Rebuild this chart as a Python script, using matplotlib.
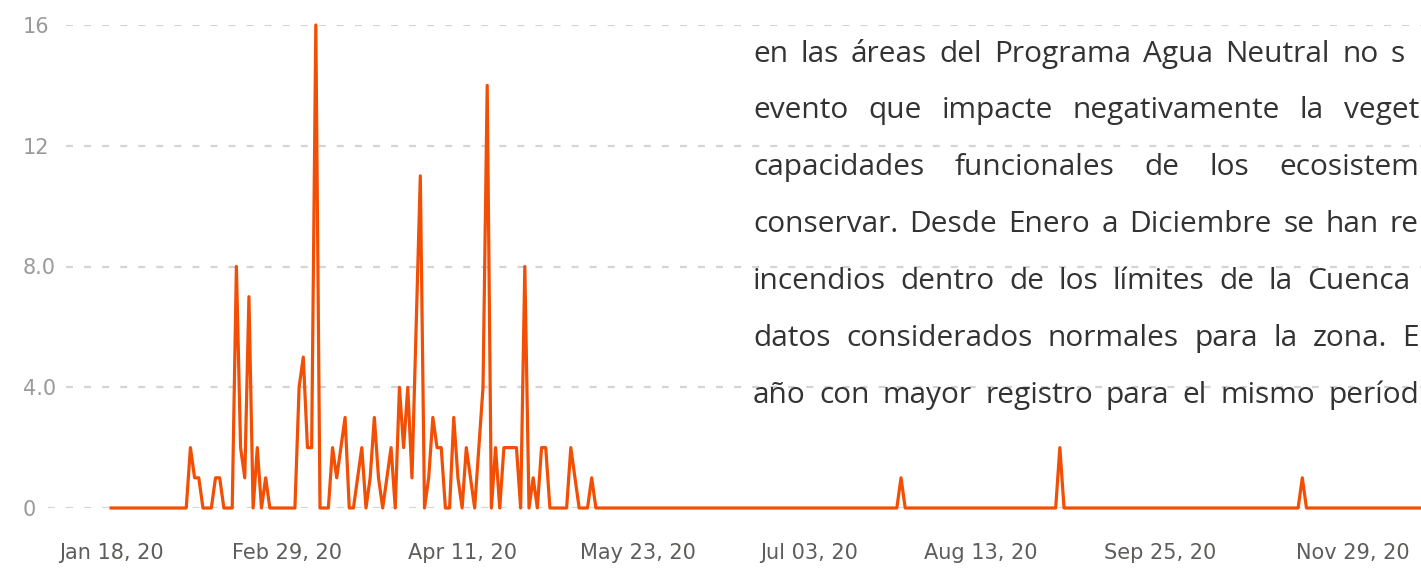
import numpy as np
import matplotlib.pyplot as plt

plt.close("all")
plt.rcParams['lines.scale_dashes'] = False

# daily fire counts, day 0 = Jan 18
early_fires = ([0] * 19
               + [2, 1, 1, 0, 0, 0, 1, 1, 0, 0, 0, 8, 2, 1, 7, 0, 2, 0, 1, 0]
               + [0] * 6
               + [4, 5, 2, 2, 16, 0, 0, 0, 2, 1, 2, 3, 0, 0, 1, 2, 0, 1, 3, 1,
                  0, 1, 2, 0, 4, 2, 4, 1, 6, 11, 0, 1, 3, 2, 2, 0, 0, 3, 1, 0,
                  2, 1, 0, 2, 4, 14, 0, 2, 0, 2, 2, 2, 2, 0, 8, 0, 1, 0, 2, 2,
                  0, 0, 0, 0, 0, 2, 1, 0, 0, 0, 1])
late_days = [189, 227, 285]
late_fires = [1, 2, 1]
n_days = 349

tick_days = [0, 42, 84, 126, 167, 208, 251, 297]
tick_labels = ["Jan 18, 20", "Feb 29, 20", "Apr 11, 20", "May 23, 20",
               "Jul 03, 20", "Aug 13, 20", "Sep 25, 20", "Nov 29, 20"]
y_ticks = [0, 4, 8, 12, 16]
y_labels = ["0", "4.0", "8.0", "12", "16"]

# visible part of the justified text box (it runs past the right edge)
paragraph = [
    "en las áreas del Programa Agua Neutral no s",
    "evento que impacte negativamente la veget",
    "capacidades funcionales de los ecosistem",
    "conservar. Desde Enero a Diciembre se han re",
    "incendios dentro de los límites de la Cuenca",
    "datos considerados normales para la zona. E",
    "año con mayor registro para el mismo períod",
]
line_right = [1405, 1419, 1419, 1419, 1410, 1419, 1419]
baselines = [62, 118, 175, 232, 289, 346, 403]

fires = np.zeros(n_days)
fires[:len(early_fires)] = early_fires
fires[late_days] = late_fires
days = np.arange(n_days)

W, H = 1421, 570
fig = plt.figure(figsize=(W / 100, H / 100), dpi=100)
ax = fig.add_axes([48 / W, 62 / H, 1 - 48 / W, 483 / H])

x0, step = 111, 4.18
ax.set_xlim((48 - x0) / step, (W - x0) / step)
ax.set_ylim(0, 16)

ax.plot(days, fires, color="#F24E04", lw=2.3, clip_on=False, zorder=3)

ax.set_yticks(y_ticks)
ax.set_yticklabels(y_labels)
ax.grid(axis="y", color="#d4d4d4", lw=1.6, linestyle=(0, (5, 8)))
ax.set_axisbelow(True)
for s in ax.spines.values():
    s.set_visible(False)

ax.set_xticks(tick_days)
ax.set_xticklabels(tick_labels)
ax.tick_params(axis="x", length=0, pad=25, labelsize=15, labelcolor="#5f5d5b")
ax.tick_params(axis="y", length=0, pad=18, labelsize=15, labelcolor="#9a9a9a")
for lab in ax.get_yticklabels():
    lab.set_ha("left")
    lab.set_bbox(dict(facecolor="white", edgecolor="none", pad=4))

fig.canvas.draw()
r = fig.canvas.get_renderer()
for line, x_end, base in zip(paragraph, line_right, baselines):
    words = line.split()
    texts = [fig.text(0, 1 - base / H, w, fontsize=21.5, family="Open Sans",
                      color="#333333", va="baseline", ha="left") for w in words]
    widths = [t.get_window_extent(renderer=r).width for t in texts]
    gap = (x_end - 753 - sum(widths)) / (len(words) - 1)
    x = 753
    for t, w in zip(texts, widths):
        t.set_x(x / W)
        x += w + gap

fig.savefig("out.png", dpi=100)
